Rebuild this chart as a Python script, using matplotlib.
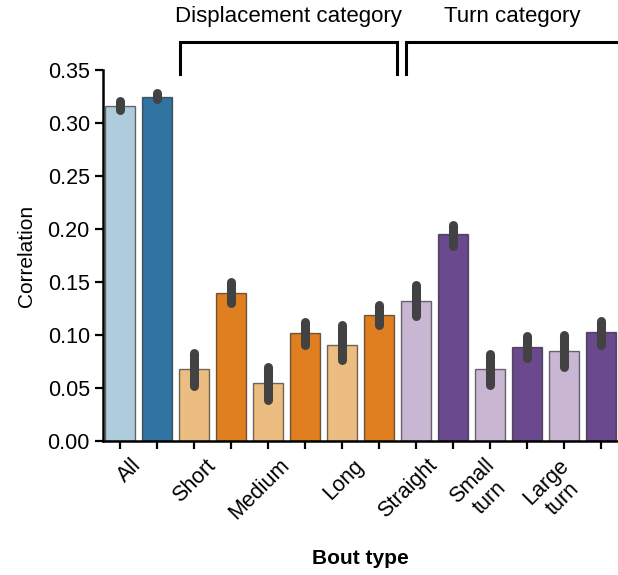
import colorsys
import matplotlib
matplotlib.use("Agg")
import matplotlib.pyplot as plt
import matplotlib.colors as mcolors
import numpy as np

plt.rcParams['font.family'] = ['Liberation Sans', 'DejaVu Sans']

# bout types, each with a light/dark bar pair
categories = ['All', 'Short', 'Medium', 'Long', 'Straight', 'Small\nturn', 'Large\nturn']
mean_light = [0.316, 0.068, 0.055, 0.091, 0.132, 0.068, 0.085]
mean_dark = [0.325, 0.140, 0.102, 0.119, 0.195, 0.089, 0.103]
ci_light_lo = [0.312, 0.052, 0.039, 0.076, 0.118, 0.053, 0.070]
ci_light_hi = [0.321, 0.083, 0.070, 0.109, 0.147, 0.082, 0.100]
ci_dark_lo = [0.323, 0.130, 0.091, 0.109, 0.184, 0.078, 0.091]
ci_dark_hi = [0.328, 0.150, 0.112, 0.128, 0.204, 0.099, 0.113]

# Paired palette: blue for All, orange for displacement, purple for turn
light_cols = ['#a6cee3', '#fdbf6f', '#fdbf6f', '#fdbf6f', '#cab2d6', '#cab2d6', '#cab2d6']
dark_cols = ['#1f78b4', '#ff7f00', '#ff7f00', '#ff7f00', '#6a3d9a', '#6a3d9a', '#6a3d9a']


def desaturate(c, prop=0.75):
    h, l, s = colorsys.rgb_to_hls(*mcolors.to_rgb(c))
    return colorsys.hls_to_rgb(h, l, s * prop)


fig = plt.figure(figsize=(6.18, 5.75), dpi=100)
ax = fig.add_axes([103 / 618, 1 - 441 / 575, 1 - 103 / 618, (441 - 70) / 575])

n = len(categories)
means, lo, hi, cols = [], [], [], []
for i in range(n):
    means += [mean_light[i], mean_dark[i]]
    lo += [ci_light_lo[i], ci_dark_lo[i]]
    hi += [ci_light_hi[i], ci_dark_hi[i]]
    cols += [desaturate(light_cols[i]), desaturate(dark_cols[i])]
x = np.arange(2 * n)

ax.bar(x, means, width=0.8, color=cols, edgecolor=(0, 0, 0, 0.55), linewidth=1.0, zorder=2)
for xi, a, b in zip(x, lo, hi):
    ax.plot([xi, xi], [a, b], color='#424242', lw=6.5, solid_capstyle='round', zorder=3)

ax.set_xlim(-0.46, 2 * n - 0.54)
ax.set_ylim(0, 0.35)
ax.set_yticks(np.arange(0, 0.351, 0.05))
ax.set_yticklabels(['%.2f' % v for v in np.arange(0, 0.351, 0.05)])

ax.set_xticks(x)
ax.set_xticklabels([])
ax.set_xticks(np.arange(n) * 2 + 0.7, categories, minor=True)
ax.tick_params(axis='x', which='minor', length=0, pad=10)
for lab in ax.get_xticklabels(minor=True):
    lab.set_rotation(45)
    lab.set_ha('right')
    lab.set_multialignment('center')

ax.tick_params(which='major', length=6, width=1.6, labelsize=15.5, color='black')
ax.tick_params(axis='x', which='minor', labelsize=15.5)

for s in ['top', 'right']:
    ax.spines[s].set_visible(False)
for s in ['left', 'bottom']:
    ax.spines[s].set_linewidth(1.8)

ax.set_ylabel('Correlation', fontsize=15, labelpad=8)
ax.set_xlabel('Bout type', fontsize=15, fontweight='bold')
ax.xaxis.set_label_coords(0.5, -0.29)

# category brackets above the bars
brackets = [(1.62, 7.49, 'Displacement category'), (7.73, 13.5, 'Turn category')]
for x0, x1, name in brackets:
    ax.plot([x0, x0, x1, x1], [0.346, 0.376, 0.376, 0.346], color='black', lw=2.2,
            clip_on=False, solid_joinstyle='miter')
    ax.text((x0 + x1) / 2, 0.391, name, ha='center', va='bottom', fontsize=16)

fig.savefig('out.png', dpi=100)
